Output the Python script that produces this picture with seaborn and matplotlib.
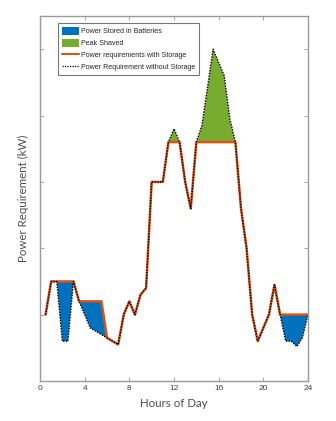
import numpy as np
import pandas as pd
import matplotlib
matplotlib.use("Agg")
import matplotlib.pyplot as plt
from matplotlib.patches import Patch
from matplotlib.lines import Line2D
import seaborn as sns

# Half-hourly demand profile (kW)
hours = [0.5, 1.0, 1.5, 2.0, 2.5, 3.0, 3.5, 4.0, 4.5, 5.0, 5.5, 6.0,
         6.5, 7.0, 7.5, 8.0, 8.5, 9.0, 9.5, 10.0, 10.5, 11.0, 11.5, 12.0,
         12.5, 13.0, 13.5, 14.0, 14.5, 15.0, 15.5, 16.0, 16.5, 17.0, 17.5, 18.0,
         18.5, 19.0, 19.5, 20.0, 20.5, 21.0, 21.5, 22.0, 22.5, 23.0, 23.5, 24.0]

without_storage = [1.0, 1.5, 1.5, 0.6, 0.6, 1.5, 1.2, 1.0, 0.8, 0.75, 0.7, 0.65,
                   0.6, 0.55, 1.0, 1.2, 1.0, 1.3, 1.4, 3.0, 3.0, 3.0, 3.6, 3.8,
                   3.6, 3.0, 2.6, 3.6, 3.85, 4.42, 5.0, 4.8, 4.6, 3.95, 3.6, 2.6,
                   2.0, 1.0, 0.6, 0.8, 1.0, 1.45, 1.0, 0.6, 0.6, 0.52, 0.65, 1.0]

with_storage = [1.0, 1.5, 1.5, 1.5, 1.5, 1.5, 1.2, 1.2, 1.2, 1.2, 1.2, 0.65,
                0.6, 0.55, 1.0, 1.2, 1.0, 1.3, 1.4, 3.0, 3.0, 3.0, 3.6, 3.6,
                3.6, 3.0, 2.6, 3.6, 3.6, 3.6, 3.6, 3.6, 3.6, 3.6, 3.6, 2.6,
                2.0, 1.0, 0.6, 0.8, 1.0, 1.45, 1.0, 1.0, 1.0, 1.0, 1.0, 1.0]

x_ticks = [0, 4, 8, 12, 16, 20, 24]
y_ticks = [1, 2, 3, 4, 5]

BLUE = "#0072BD"
GREEN = "#77AC30"
ORANGE = "#D95319"
SPINE = "#9a9a9a"

df = pd.DataFrame({"hour": hours, "without": without_storage, "with": with_storage})

sns.set_style("white")
plt.rcParams["font.family"] = ["Liberation Sans", "DejaVu Sans"]

fig = plt.figure(figsize=(3.36, 4.21), dpi=100)
ax = fig.add_axes([40 / 336, 40 / 421, 268 / 336, 365 / 421])

h = np.array(hours)
wo = np.array(without_storage)
w = np.array(with_storage)

# Energy put into storage (demand below the flattened profile)
ax.fill_between(h, wo, w, where=w >= wo, interpolate=True, color=BLUE, lw=0)
# Peak shaved off the original demand
ax.fill_between(h, w, wo, where=wo >= w, interpolate=True, color=GREEN, lw=0)

sns.lineplot(data=df, x="hour", y="with", ax=ax, color=ORANGE, lw=1.8,
             estimator=None, sort=False)
sns.lineplot(data=df, x="hour", y="without", ax=ax, color="black", lw=1.0,
             estimator=None, sort=False, linestyle=(0, (1, 1)))

ax.set_xlim(0, 24)
ax.set_ylim(0, 5.5)
ax.set_xticks(x_ticks)
ax.set_xticklabels([str(t) for t in x_ticks], fontsize=6, color="#404040")
ax.set_yticks(y_ticks)
ax.set_yticklabels([])
ax.tick_params(direction="in", length=3, width=0.6, color=SPINE,
               top=True, right=True, bottom=True, left=True, pad=3)
for s in ax.spines.values():
    s.set_color(SPINE)
    s.set_linewidth(1.0)

ax.set_xlabel("Hours of Day", fontsize=8.3, color="#4d4d4d",
              family=["Lato", "DejaVu Sans"], labelpad=4)
ax.set_ylabel("Power Requirement (kW)", fontsize=8.3, color="#4d4d4d",
              family=["Lato", "DejaVu Sans"], labelpad=5)

handles = [
    Patch(facecolor=BLUE, edgecolor="none", label="Power Stored in Batteries"),
    Patch(facecolor=GREEN, edgecolor="none", label="Peak Shaved"),
    Line2D([0], [0], color=ORANGE, lw=1.5, label="Power requirements with Storage"),
    Line2D([0], [0], color="black", lw=0.9, linestyle=(0, (1, 1)),
           label="Power Requirement without Storage"),
]
leg = ax.legend(handles=handles, loc="upper left", bbox_to_anchor=(0.067, 0.98),
                fontsize=5.1, frameon=True, fancybox=False, framealpha=1,
                edgecolor="#777777", handlelength=2.4, handleheight=1.23,
                handletextpad=0.3, labelspacing=0.55, borderpad=0.55,
                borderaxespad=0)
leg.get_frame().set_linewidth(0.8)

fig.savefig("out.png", dpi=100)
